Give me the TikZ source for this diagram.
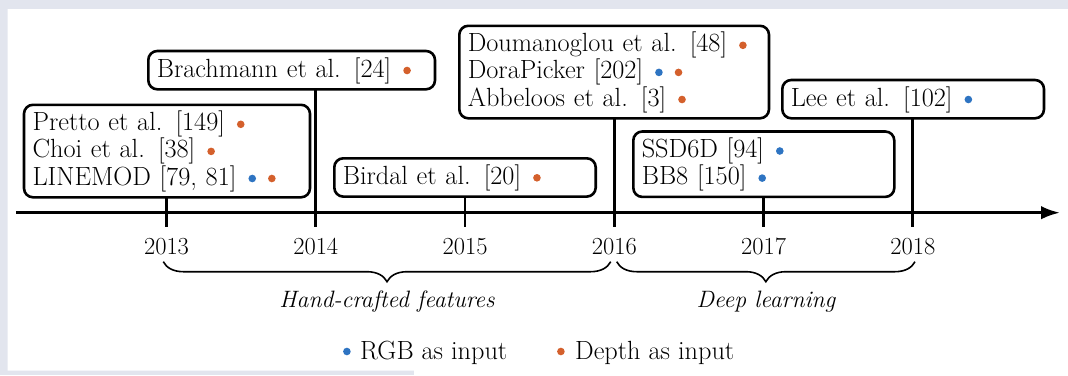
\documentclass[tikz,border=0pt]{standalone}
\usetikzlibrary{arrows.meta,decorations.pathreplacing}

\definecolor{rgbblue}{RGB}{46,116,194}
\definecolor{deporange}{RGB}{212,96,44}
\definecolor{pagebg}{RGB}{226,229,238}

\newcommand\figfont{\fontsize{26.3}{27.1}\selectfont}
\newcommand\yearfont{\fontsize{24.5}{27.1}\selectfont}
\newcommand\phasefont{\fontsize{23.7}{27.1}\selectfont\itshape}
% small coloured marker sitting on the text baseline
\newcommand\mkdot[2]{\tikz[baseline=0pt]\fill[#1,draw=none] (0pt,#2) circle[radius=3.8pt];}
\newcommand\rgbdot{\hspace{12pt}\mkdot{rgbblue}{6.5pt}}
\newcommand\depdot{\hspace{12pt}\mkdot{deporange}{6.5pt}}

\tikzset{
  pubbox/.style={draw, line width=2.6pt, rounded corners=9pt, anchor=base west,
    align=left, inner xsep=8.5pt, inner ysep=0pt, outer sep=0pt,
    text height=26pt, text depth={(#1-1)*27.1pt+12.3pt}},
  yearlabel/.style={anchor=base, inner sep=0pt, font=\yearfont},
  phase/.style={anchor=base, inner sep=0pt, font=\phasefont},
  legend/.style={anchor=base west, inner sep=0pt},
  axisline/.style={line width=2.9pt, -{Latex[length=19pt,width=13.5pt]}},
  tickline/.style={line width=2.6pt},
  bracestyle/.style={line width=1.6pt, decorate,
    decoration={brace, amplitude=20pt, mirror}},
}

\begin{document}
\begin{tikzpicture}[x=1pt, y=-1pt, font=\figfont]
  \useasboundingbox (0,0) rectangle (1068,375);
  % page background and white sheet
  \fill[pagebg] (0,0) rectangle (1068,375);
  \fill[white] (7.5,9) -- (1068,9) -- (1068,375) -- (414,375) -- (414,370.7)
    -- (7.5,370.7) -- cycle;

  % time axis
  \coordinate (axL) at (16,212.7);
  \coordinate (axR) at (1060,212.7);
  \draw[axisline] (axL) -- (axR);

  % years
  \foreach \yr [count=\i from 0] in {2013,2014,2015,2016,2017,2018} {
    \coordinate (t\yr) at (166.5+149.25*\i, 227);
    \node[yearlabel] (y\yr) at (166.5+149.25*\i, 254.3) {\yr};
  }

  % publications
  \node[pubbox=3, text width=269pt] (pretto) at (24,130.8)
    {Pretto et al. [149]\depdot\\Choi et al. [38]\depdot\\LINEMOD [79, 81]\rgbdot\depdot};
  \node[pubbox=1, text width=269.7pt] (brach) at (148.3,77)
    {Brachmann et al. [24]\depdot};
  \node[pubbox=1, text width=244.4pt] (birdal) at (334.3,184.3)
    {Birdal et al. [20]\depdot};
  \node[pubbox=3, text width=292.7pt] (doum) at (459.3,51.8)
    {Doumanoglou et al. [48]\depdot\\DoraPicker [202]\rgbdot\depdot\\Abbeloos et al. [3]\depdot};
  \node[pubbox=2, text width=244pt] (ssd) at (633.3,157.5)
    {SSD6D [94]\rgbdot\\BB8 [150]\rgbdot};
  \node[pubbox=1, text width=244.7pt] (lee) at (782.3,106)
    {Lee et al. [102]\rgbdot};

  % connectors from the boxes down to the axis
  \draw[tickline] (pretto.south -| t2013) -- (t2013);
  \draw[tickline] (brach.south -| t2014) -- (t2014);
  \draw[tickline] (birdal.south -| t2015) -- (t2015);
  \draw[tickline] (doum.south -| t2016) -- (t2016);
  \draw[tickline] (ssd.south -| t2017) -- (t2017);
  \draw[tickline] (lee.south -| t2018) -- (t2018);

  % periods
  \coordinate (hs) at (163.3,261.7);
  \coordinate (he) at (610.7,261.7);
  \coordinate (ds) at (616.7,261.7);
  \coordinate (de) at (915,261.7);
  \draw[bracestyle] (hs) -- (he);
  \draw[bracestyle] (ds) -- (de);
  \node[phase] (hand) at (387,307.7) {Hand-crafted features};
  \node[phase] (deep) at (766,307.7) {Deep learning};

  % legend
  \node[legend] (lrgb) at (342.9,359.5) {\mkdot{rgbblue}{8pt}\hspace{9.5pt}RGB as input};
  \node[legend] (ldep) at (556.9,359.5) {\mkdot{deporange}{8pt}\hspace{10.5pt}Depth as input};
\end{tikzpicture}
\end{document}
